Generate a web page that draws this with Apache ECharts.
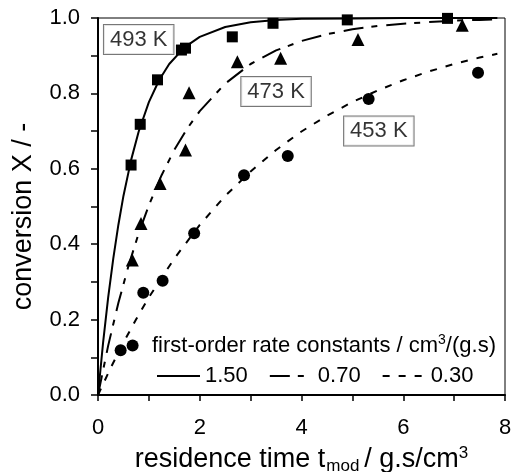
<!DOCTYPE html>
<html>
<head>
<meta charset="utf-8">
<script src="https://cdn.jsdelivr.net/npm/echarts@6/dist/echarts.min.js"></script>
<style>
html,body{margin:0;padding:0;background:#fff;}
#c{width:515px;height:472px;}
</style>
</head>
<body>
<div id="c"></div>
<script>
const t493 = [0.65, 0.83, 1.17, 1.64, 1.72, 2.64, 3.44, 4.90, 6.87];
const x493 = [0.610, 0.718, 0.836, 0.915, 0.920, 0.950, 0.986, 0.995, 0.999];
const t473 = [0.675, 0.845, 1.22, 1.72, 1.79, 2.74, 3.59, 5.11, 7.16];
const x473 = [0.358, 0.455, 0.561, 0.650, 0.802, 0.884, 0.893, 0.943, 0.981];
const t453 = [0.445, 0.68, 0.89, 1.27, 1.89, 2.87, 3.73, 5.32, 7.47];
const x453 = [0.119, 0.131, 0.271, 0.303, 0.429, 0.583, 0.634, 0.785, 0.855];

// ---- model curves ----
const tFit150 = [0, 0.1, 0.2, 0.3, 0.4, 0.5, 0.65, 0.8, 1.0, 1.2, 1.4, 1.7, 2.0, 2.5, 3.0, 3.5, 4.0, 5.0, 6.0, 7.85];
const xFit150 = [0, 0.139, 0.259, 0.362, 0.451, 0.528, 0.623, 0.699, 0.777, 0.835, 0.878, 0.922, 0.950, 0.976, 0.989, 0.995, 0.998, 0.999, 1.0, 1.0];
const tFit070 = [0, 0.2, 0.4, 0.6, 0.8, 1.0, 1.25, 1.5, 1.75, 2.0, 2.5, 3.0, 3.5, 4.0, 4.5, 5.0, 5.5, 6.0, 6.5, 7.0, 7.5, 7.85];
const xFit070 = [0, 0.131, 0.244, 0.343, 0.429, 0.503, 0.583, 0.650, 0.706, 0.753, 0.826, 0.878, 0.914, 0.939, 0.957, 0.970, 0.979, 0.985, 0.989, 0.993, 0.995, 0.996];
const tFit030 = [0, 0.25, 0.5, 0.75, 1.0, 1.5, 2.0, 2.5, 3.0, 3.5, 4.0, 4.5, 5.0, 5.5, 6.0, 6.5, 7.0, 7.5, 7.85];
const xFit030 = [0, 0.072, 0.139, 0.201, 0.259, 0.362, 0.451, 0.528, 0.593, 0.650, 0.699, 0.741, 0.777, 0.808, 0.835, 0.858, 0.878, 0.895, 0.905];

const fitNames = ['1.50', '0.70', '0.30'];
const tempLabels = ['493 K', '473 K', '453 K'];
const xTicks = [0, 2, 4, 6, 8];
const yTicks = [0.0, 0.2, 0.4, 0.6, 0.8, 1.0];

// annotation anchors (data coordinates)
const labelAnchors = [[0.80, 0.943], [3.50, 0.805], [5.52, 0.700]];

const zip = (a, b) => a.map((v, i) => [v, b[i]]);
const FONT = 'Liberation Sans, Arial, sans-serif';

const chart = echarts.init(document.getElementById('c'), null, {renderer: 'canvas'});

const option = {
  animation: false,
  backgroundColor: '#fff',
  color: ['#000'],
  textStyle: {fontFamily: FONT, color: '#000'},
  grid: {left: 98, right: 10, top: 18, bottom: 77, containLabel: false, outerBoundsMode: 'none',
         show: true, borderColor: '#000', borderWidth: 1, backgroundColor: 'transparent'},
  xAxis: {
    type: 'value', min: xTicks[0], max: xTicks[xTicks.length - 1], interval: 2,
    splitLine: {show: false},
    axisLine: {lineStyle: {color: '#000', width: 2}},
    axisTick: {inside: false, length: 6, lineStyle: {color: '#000', width: 1.5}},
    minorTick: {show: true, splitNumber: 2, length: 6, lineStyle: {color: '#000', width: 1.5}},
    axisLabel: {fontSize: 22, color: '#000', fontFamily: FONT, margin: 22},
    name: '{a|residence time t}{b|mod}{a|/ g.s/cm}{c|3}',
    nameLocation: 'middle', nameGap: 47,
    nameTextStyle: {
      fontFamily: FONT, color: '#000',
      rich: {
        a: {fontSize: 27, fontFamily: FONT, color: '#000', lineHeight: 34},
        b: {fontSize: 17, fontFamily: FONT, color: '#000', lineHeight: 17, padding: [14, 5, 0, 1]},
        c: {fontSize: 17, fontFamily: FONT, color: '#000', lineHeight: 17, padding: [0, 0, 12, 0]}
      }
    }
  },
  yAxis: {
    type: 'value', min: yTicks[0], max: yTicks[yTicks.length - 1], interval: 0.2,
    splitLine: {show: false},
    axisLine: {lineStyle: {color: '#000', width: 2}},
    axisTick: {inside: false, length: 7, lineStyle: {color: '#000', width: 1.5}},
    minorTick: {show: true, splitNumber: 2, length: 7, lineStyle: {color: '#000', width: 1.5}},
    axisLabel: {fontSize: 22, color: '#000', fontFamily: FONT, margin: 18, formatter: v => v.toFixed(1)},
    name: 'conversion X / -',
    nameLocation: 'middle', nameGap: 61,
    nameTextStyle: {fontSize: 27, fontFamily: FONT, color: '#000', padding: [0, 20, 0, 0]}
  },
  legend: {
    data: fitNames,
    left: 151, top: 360,
    orient: 'horizontal',
    itemWidth: 43, itemHeight: 14, itemGap: 21,
    itemStyle: {opacity: 0, color: '#000', borderWidth: 0},
    textStyle: {fontSize: 22, fontFamily: FONT, color: '#000'},
    selectedMode: false
  },
  graphic: [{
    type: 'text', left: 152, top: 333, z: 50,
    style: {
      text: '{a|first-order rate constants / cm}{s|3}{a|/(g.s)}',
      rich: {
        a: {fontSize: 22, fontFamily: FONT, fill: '#000', lineHeight: 28},
        s: {fontSize: 14, fontFamily: FONT, fill: '#000', lineHeight: 14, padding: [0, 0, 12, 0]}
      }
    }
  }],
  series: [
    {name: fitNames[0], type: 'line', data: zip(tFit150, xFit150), showSymbol: false, symbol: 'none',
     itemStyle: {color: '#000'}, lineStyle: {color: '#000', width: 2, type: 'solid'}, z: 3},
    {name: fitNames[1], type: 'line', data: zip(tFit070, xFit070), showSymbol: false, symbol: 'none',
     itemStyle: {color: '#000'}, lineStyle: {color: '#000', width: 2, type: [20, 8, 6, 9]}, z: 3},
    {name: fitNames[2], type: 'line', data: zip(tFit030, xFit030), showSymbol: false, symbol: 'none',
     itemStyle: {color: '#000'}, lineStyle: {color: '#000', width: 2, type: [7, 9]}, z: 3},
    {name: tempLabels[0], type: 'scatter', data: zip(t493, x493), symbol: 'rect', symbolSize: 11,
     itemStyle: {color: '#000', opacity: 1}, z: 4, clip: false},
    {name: tempLabels[1], type: 'scatter', data: zip(t473, x473), symbol: 'triangle', symbolSize: 13,
     itemStyle: {color: '#000', opacity: 1}, z: 4, clip: false},
    {name: tempLabels[2], type: 'scatter', data: zip(t453, x453), symbol: 'circle', symbolSize: 12,
     itemStyle: {color: '#000', opacity: 1}, z: 4, clip: false},
    {name: 'labels', type: 'scatter', symbolSize: 0, z: 6, silent: true,
     data: labelAnchors.map((p, i) => ({value: p, name: tempLabels[i]})),
     label: {show: true, position: 'inside', formatter: p => p.name,
       fontSize: 22, fontFamily: FONT, color: '#000',
       backgroundColor: '#fff', borderColor: '#555', borderWidth: 1, padding: [4, 6, 3, 6]}}
  ]
};
chart.setOption(option);
</script>
</body>
</html>
